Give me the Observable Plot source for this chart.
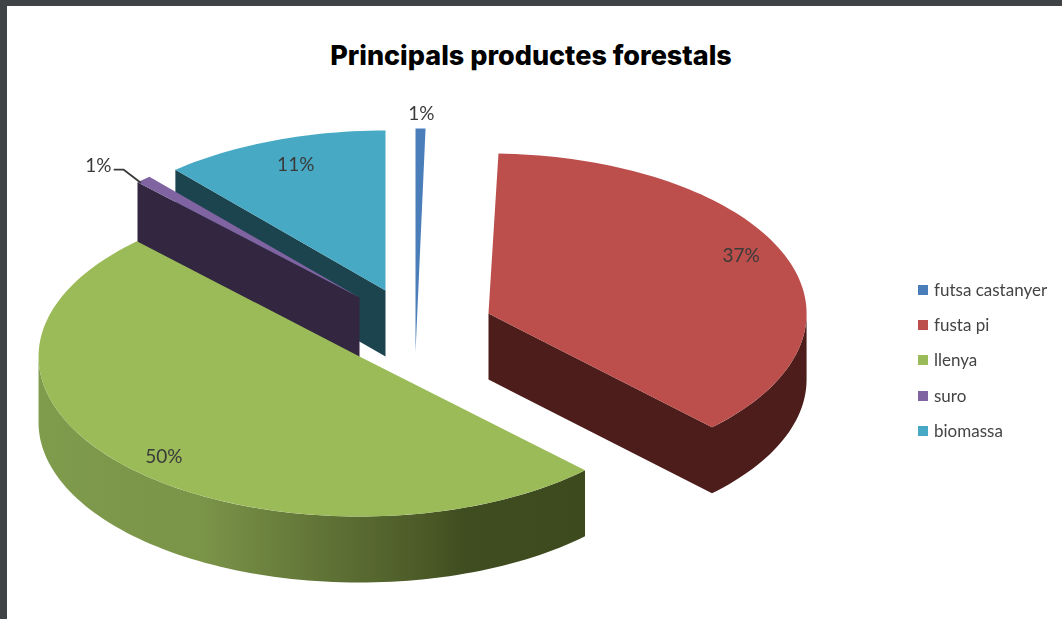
<!DOCTYPE html>
<html>
<head>
<meta charset="utf-8">
<script src="https://cdn.jsdelivr.net/npm/d3@7"></script>
<script src="https://cdn.jsdelivr.net/npm/@observablehq/plot@0.6"></script>
<style>
html,body{margin:0;padding:0;width:1062px;height:619px;overflow:hidden;background:#3f4345;}
#page{position:absolute;left:7px;top:6px;width:1055px;height:613px;background:#fff;}
#title{position:absolute;left:0;top:33px;width:1048px;margin:0;text-align:center;font:800 27px Inter,sans-serif;color:#000;letter-spacing:0;}
#chart{position:absolute;left:0;top:79px;filter:blur(0.4px);}
#chart svg{display:block;}
#legend{position:absolute;left:911px;top:0;font:17px Lato,sans-serif;color:#444;filter:blur(0.4px);}
.row{position:absolute;white-space:nowrap;line-height:18px;}
.sw{position:absolute;left:0;top:4px;width:10px;height:10px;}
.lb{position:absolute;left:16px;top:0;}
</style>
</head>
<body>
<div id="page">
<h1 id="title">Principals productes forestals</h1>
<div id="chart"></div>
<div id="legend"></div>
</div>
<script>
const title = "Principals productes forestals";
const categories = ["futsa castanyer", "fusta pi", "llenya", "suro", "biomassa"];
const shares = [0.5, 37.1, 50.2, 0.8, 11.4];
const percentLabels = ["1%", "37%", "50%", "1%", "11%"];
const colors = ["#4a7ebb", "#bc4f4c", "#9bbb59", "#8064a2", "#48a9c5"];
const wallColors = ["#2c4d75", "#4c1d1b", "#3f4d20", "#322640", "#1c444f"];

// Pie layout parameters (exploded, tilted pie)
const hub = {x: 359, y: 356};
const radiusX = 320, radiusY = 160, depth = 66;
const explodeX = [56, 129, 0, 0, 26];
const explodeY = [-4, -43, 0, -59, -66];
const stretchX = [1, 0.994, 1.003, 1, 1];
const stretchY = [1.4, 1, 1, 1, 1];
const labelAngle = [1, 65.5, 224.3, 315.3, 340.4];
const labelRadius = [1.067, 0.873, 0.873, 1.16, 0.836];
const paintOrder = [4, 3, 0, 1, 2];
const greenStops = [[0, "#7f9b4c"], [0.3, "#7a9448"], [0.48, "#65793a"], [0.717, "#4a5826"], [0.78, "#3f4d20"], [1, "#3d4a1e"]];
const legendRowY = [290, 325, 360, 396, 431];

const rad = (d) => (d * Math.PI) / 180;
let acc = 0;
const slices = categories.map((name, i) => {
  const a0 = (acc / 100) * 360;
  acc += shares[i];
  const a1 = (acc / 100) * 360;
  return {
    name, i, a0, a1,
    cx: hub.x + explodeX[i],
    cy: hub.y + explodeY[i],
    rx: radiusX * stretchX[i],
    ry: radiusY * stretchY[i]
  };
});
const rimPoint = (s, a, drop = 0, f = 1) => ({
  x: s.cx + f * s.rx * Math.sin(rad(a)),
  y: s.cy - f * s.ry * Math.cos(rad(a)) + drop,
  name: s.name
});
const arc = (s, a0, a1, drop = 0) => {
  const n = Math.max(2, Math.ceil(Math.abs(a1 - a0) / 1.5));
  return d3.range(n + 1).map((k) => rimPoint(s, a0 + ((a1 - a0) * k) / n, drop));
};
const hubPoint = (s, drop = 0) => ({x: s.cx, y: s.cy + drop, name: s.name});
const poly = (pts, fill) =>
  Plot.line(pts, {x: "x", y: "y", fill, stroke: "none", curve: "linear-closed"});

const marks = [];
const gradDefs = (index, scales) => {
  const defs = d3.create("svg:defs");
  const g = defs.append("linearGradient").attr("id", "greenSide")
    .attr("gradientUnits", "userSpaceOnUse")
    .attr("x1", scales.x(38)).attr("x2", scales.x(585)).attr("y1", 0).attr("y2", 0);
  greenStops.forEach(([o, c]) => g.append("stop").attr("offset", o).attr("stop-color", c));
  return defs.node();
};
marks.push(gradDefs);

for (const i of paintOrder) {
  const s = slices[i];
  if (s.name === "fusta pi") {
    // cut wall and outer wall as one outline, so no seam shows between them
    marks.push(poly([hubPoint(s), rimPoint(s, s.a1), ...arc(s, s.a1, 90), ...arc(s, 90, s.a1, depth), hubPoint(s, depth)], wallColors[i]));
  } else if (s.name === "llenya") {
    marks.push(poly([...arc(s, s.a0, 270), ...arc(s, 270, s.a0, depth)], "url(#greenSide)"));
  } else if (s.name === "suro" || s.name === "biomassa") {
    marks.push(poly([hubPoint(s), rimPoint(s, s.a0), rimPoint(s, s.a0, depth), hubPoint(s, depth)], wallColors[i]));
  }
  marks.push(poly([hubPoint(s), ...arc(s, s.a0, s.a1)], "name"));
}

const labelData = slices.map((s, i) => ({
  ...rimPoint(s, labelAngle[i], 0, labelRadius[i]),
  text: percentLabels[i]
}));

// leader for the suro label
const suroSlice = slices[3];
const suroLabel = labelData[3];
const suroRim = rimPoint(suroSlice, (suroSlice.a0 + suroSlice.a1) / 2);
marks.push(Plot.line([
  {x: suroLabel.x + 16, y: suroLabel.y + 4},
  {x: suroLabel.x + 25, y: suroLabel.y + 4},
  {x: suroRim.x - 3, y: suroRim.y + 3}
], {x: "x", y: "y", stroke: "#3a3a3a", strokeWidth: 1.8}));

marks.push(Plot.text(labelData, {
  x: "x", y: "y", text: "text", fill: "#3a3a3a",
  fontSize: 19, fontFamily: "Lato, sans-serif", textAnchor: "middle"
}));

const chart = Plot.plot({
  width: 1055, height: 534,
  marginTop: 0, marginRight: 0, marginBottom: 0, marginLeft: 0,
  x: {domain: [7, 1062], range: [0, 1055], axis: null},
  y: {domain: [85, 619], range: [0, 534], axis: null},
  color: {type: "ordinal", domain: categories, range: colors},
  style: {background: "transparent", overflow: "visible"},
  marks
});
document.getElementById("chart").appendChild(chart);

const legend = d3.select("#legend");
categories.forEach((c, i) => {
  const row = legend.append("div").attr("class", "row").style("top", (legendRowY[i] - 6 - 9) + "px");
  row.append("span").attr("class", "sw").style("background", colors[i]);
  row.append("span").attr("class", "lb").text(c);
});
</script>
</body>
</html>
